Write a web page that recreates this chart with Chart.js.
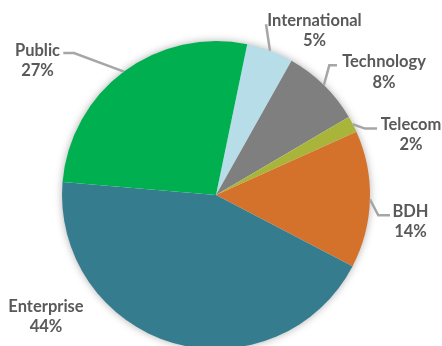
<!DOCTYPE html>
<html>
<head>
<meta charset="utf-8">
<script src="https://cdn.jsdelivr.net/npm/chart.js@4.4.1/dist/chart.umd.min.js"></script>
<style>
  html, body { margin: 0; padding: 0; background: #ffffff; overflow: hidden; width: 442px; height: 346px; }
  #wrap { position: absolute; left: 0; top: 0; width: 442px; height: 400px; }
</style>
</head>
<body>
<div id="wrap"><canvas id="c"></canvas></div>
<script>
// ---- data ----
const categories = ["International", "Technology", "Telecom", "BDH", "Enterprise", "Public"];
const sliceShares = [4.9, 8.4, 1.7, 14.4, 43.7, 26.9];
const sliceColors = ["#B7DEE8", "#7F7F7F", "#A9B43B", "#D4712B", "#367C8F", "#00AF50"];

// ---- label layout (offsets from pie centre, px) ----
const labelLayout = [
  { dx: 98.5,  dy: -174.7, leader: [[50, -170.7]] },
  { dx: 168,   dy: -133,   leader: [[113.3, -129.7], [121, -129.7]] },
  { dx: 195,   dy: -70.7,  leader: [[149, -66.4], [161, -66.4]] },
  { dx: 194.5, dy: 16.3,   leader: [[162.3, 20.3], [174, 20.3]] },
  { dx: -170,  dy: 111.3,  leader: null },
  { dx: -178.5,dy: -144.7, leader: [[-142, -142], [-152.7, -142]] }
];

const shadowPlugin = {
  id: 'pieShadow',
  beforeDatasetsDraw(chart) {
    const arc = chart.getDatasetMeta(0).data[0];
    if (!arc) return;
    const ctx = chart.ctx;
    ctx.save();
    ctx.shadowColor = 'rgba(0,0,0,0.35)';
    ctx.shadowBlur = 9;
    ctx.fillStyle = '#ffffff';
    ctx.beginPath();
    ctx.arc(arc.x, arc.y, arc.outerRadius - 0.5, 0, Math.PI * 2);
    ctx.fill();
    ctx.restore();
  }
};

const labelPlugin = {
  id: 'pieLabels',
  afterDatasetsDraw(chart) {
    const meta = chart.getDatasetMeta(0);
    const values = chart.data.datasets[0].data;
    const total = values.reduce((a, b) => a + b, 0);
    const ctx = chart.ctx;
    ctx.save();
    meta.data.forEach((arc, i) => {
      const lay = labelLayout[i];
      const cx = arc.x, cy = arc.y, r = arc.outerRadius;
      if (lay.leader) {
        const a = (arc.startAngle + arc.endAngle) / 2;
        ctx.strokeStyle = '#A6A6A6';
        ctx.lineWidth = 2.5;
        ctx.beginPath();
        ctx.moveTo(cx + Math.cos(a) * r, cy + Math.sin(a) * r);
        lay.leader.forEach(p => ctx.lineTo(cx + p[0], cy + p[1]));
        ctx.stroke();
      }
      ctx.fillStyle = '#595959';
      ctx.font = 'bold 16.5px Lato, "Open Sans", sans-serif';
      ctx.textAlign = 'center';
      ctx.textBaseline = 'middle';
      const pct = Math.round(values[i] / total * 100) + '%';
      ctx.fillText(categories[i], cx + lay.dx, cy + lay.dy);
      ctx.fillText(pct, cx + lay.dx, cy + lay.dy + 20.5);
    });
    ctx.restore();
  }
};

new Chart(document.getElementById('c'), {
  type: 'pie',
  data: {
    labels: categories,
    datasets: [{
      data: sliceShares,
      backgroundColor: sliceColors,
      borderWidth: 0
    }]
  },
  options: {
    responsive: true,
    maintainAspectRatio: false,
    animation: false,
    rotation: 11.7,
    layout: { padding: { left: 62, right: 72, top: 41, bottom: 51 } },
    plugins: {
      legend: { display: false },
      tooltip: { enabled: false }
    }
  },
  plugins: [shadowPlugin, labelPlugin]
});
</script>
</body>
</html>
